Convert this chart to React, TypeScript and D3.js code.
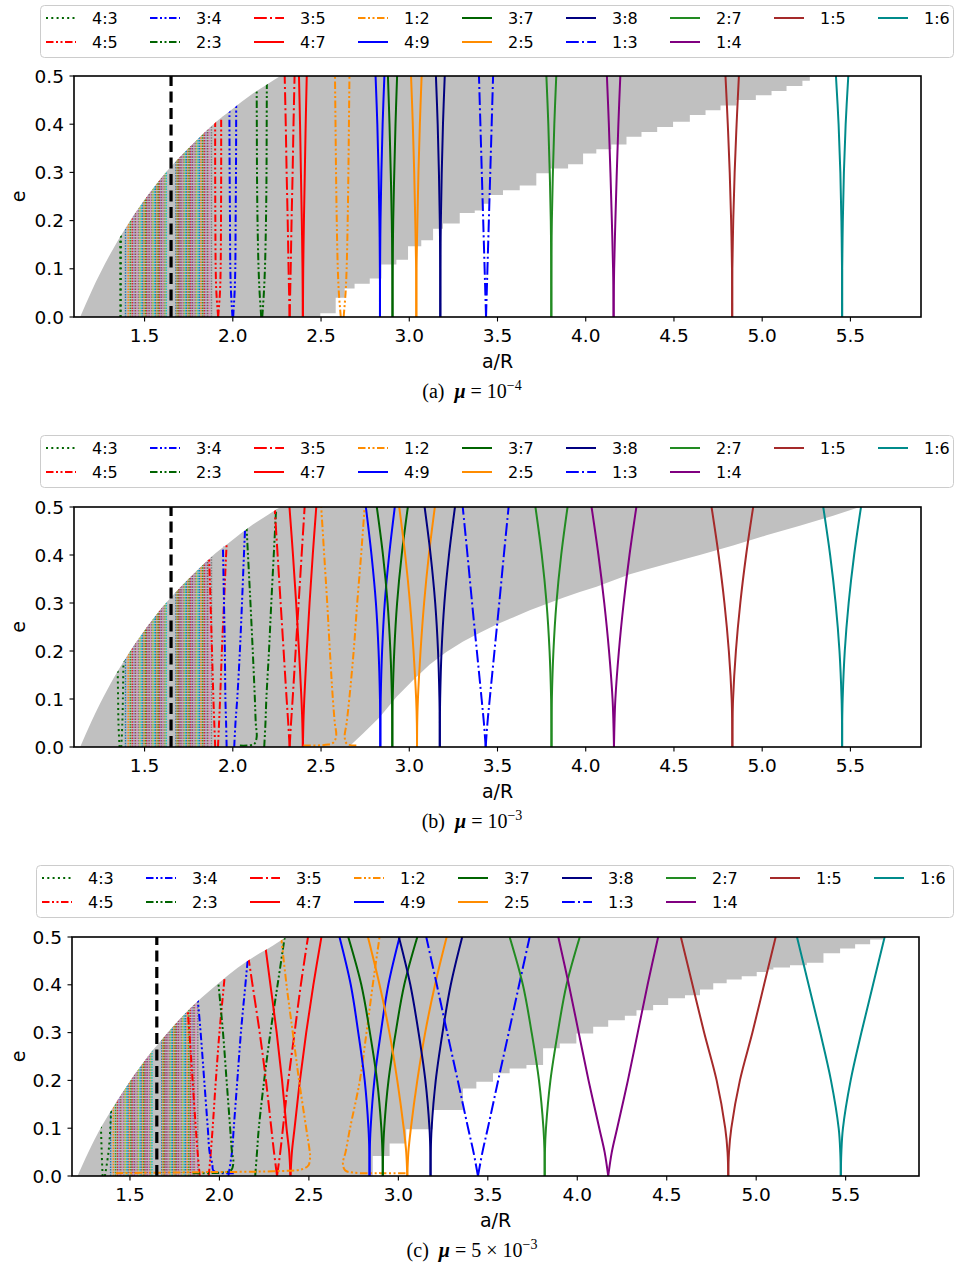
import React from "react";
import * as d3 from "d3";

// ---------- data ----------
const RES_LABELS = ["4:3","4:5","3:4","2:3","3:5","4:7","1:2","4:9","3:7","2:5","3:8","1:3","2:7","1:4","1:5","1:6"];
const RES_COLORS = ["#006400","#ff0000","#0000ff","#006400","#ff0000","#ff0000","#ff8c00","#0000ff","#006400","#ff8c00","#000080","#0000ff","#228b22","#800080","#a52a2a","#008b8b"];
const RES_STYLES = ["dot","dashdotdot","dashdotdot","dashdotdot","dashdot","solid","dashdotdot","solid","solid","solid","solid","dashdot","solid","solid","solid","solid"];
const E_LEVELS = [0, 0.05, 0.1, 0.2, 0.3, 0.4, 0.5];
const X_TICKS = [1.5, 2.0, 2.5, 3.0, 3.5, 4.0, 4.5, 5.0, 5.5];
const Y_TICKS = [0, 0.1, 0.2, 0.3, 0.4, 0.5];
const SATELLITE_A = 1.65;

// panel (a) mu = 1e-4
const CENTER_A = [1.364,1.917,2.0,2.164,2.322,2.397,2.62,2.834,2.905,3.04,3.176,3.435,3.805,4.158,4.83,5.453];
const HW_A = [
  [0,0.001,0.0015,0.002,0.003,0.004,0.005],
  [0,0.01,0.014,0.016,0.017,0.017,0.017],
  [0.002,0.01,0.014,0.016,0.018,0.019,0.019],
  [0.003,0.012,0.018,0.024,0.027,0.028,0.029],
  [0,0.003,0.006,0.011,0.017,0.022,0.028],
  [0,0.001,0.002,0.006,0.011,0.016,0.022],
  [0.008,0.019,0.025,0.031,0.035,0.038,0.041],
  [0,0,0.0005,0.003,0.008,0.015,0.025],
  [0,0,0.001,0.004,0.01,0.017,0.026],
  [0,0.0003,0.001,0.006,0.012,0.02,0.03],
  [0,0,0.0005,0.003,0.008,0.015,0.025],
  [0,0.004,0.008,0.016,0.024,0.032,0.04],
  [0,0,0.0005,0.003,0.009,0.017,0.028],
  [0,0.001,0.003,0.01,0.018,0.027,0.038],
  [0,0,0.001,0.006,0.014,0.025,0.038],
  [0,0,0.0005,0.004,0.01,0.02,0.035],
];

// panel (b) mu = 1e-3   (14 values = left 7 + right 7)
const CENTER_B = [1.363,1.908,1.987,2.156,2.322,2.397,2.61,2.836,2.904,3.044,3.173,3.433,3.806,4.16,4.831,5.453];
const HW_B = [
  [0.005,0.011,0.013,0.017,0.02,0.023,0.025, 0.005,0.011,0.014,0.018,0.022,0.025,0.027],
  [0.008,0.013,0.018,0.026,0.034,0.043,0.052, 0.008,0.014,0.02,0.03,0.042,0.054,0.067],
  [0.022,0.025,0.029,0.032,0.037,0.042,0.047, 0.021,0.028,0.038,0.053,0.065,0.076,0.088],
  [0.021,0.026,0.031,0.043,0.056,0.07,0.084, 0.022,0.029,0.034,0.049,0.062,0.076,0.09],
  [0,0.008,0.017,0.034,0.051,0.068,0.085],
  [0,0.003,0.008,0.022,0.038,0.056,0.076],
  [0.024,0.032,0.043,0.06,0.075,0.092,0.109, 0.024,0.035,0.05,0.075,0.095,0.117,0.137],
  [0,0.0005,0.002,0.01,0.025,0.05,0.082],
  [0,0.0005,0.002,0.011,0.027,0.053,0.088],
  [0,0.001,0.005,0.02,0.04,0.067,0.101],
  [0,0.0005,0.002,0.01,0.026,0.052,0.086],
  [0,0.01,0.023,0.05,0.077,0.103,0.13],
  [0,0.0005,0.002,0.011,0.028,0.055,0.091],
  [0,0.003,0.008,0.028,0.055,0.088,0.127],
  [0,0.001,0.004,0.02,0.045,0.078,0.118],
  [0,0.0005,0.003,0.015,0.037,0.068,0.107],
];

// panel (c) mu = 5e-3
const CENTER_C = [1.35,1.912,2.005,2.14,2.322,2.397,2.6,2.839,2.913,3.05,3.18,3.445,3.818,4.173,4.844,5.473];
const HW_C = [
  [0.003,0.008,0.012,0.02,0.025,0.03,0.035, 0.01,0.03,0.04,0.05,0.06,0.07,0.08],
  [0.022,0.034,0.044,0.062,0.08,0.1,0.122, 0.028,0.04,0.05,0.068,0.088,0.113,0.138],
  [0.045,0.06,0.07,0.09,0.11,0.133,0.155, 0.045,0.065,0.075,0.095,0.115,0.14,0.165],
  [0.062,0.07,0.08,0.1,0.12,0.145,0.17, 0.06,0.07,0.08,0.11,0.145,0.185,0.225],
  [0,0.017,0.032,0.062,0.097,0.137,0.177, 0,0.018,0.033,0.063,0.098,0.133,0.173],
  [0,0.007,0.022,0.047,0.077,0.112,0.147, 0,0.008,0.023,0.053,0.088,0.128,0.173],
  [0.093,0.095,0.115,0.155,0.19,0.225,0.255, 0.09,0.105,0.13,0.185,0.222,0.257,0.295],
  [0,0.001,0.006,0.027,0.063,0.105,0.168],
  [0,0.002,0.008,0.032,0.072,0.12,0.193],
  [0,0.006,0.02,0.056,0.1,0.155,0.22],
  [0,0.001,0.006,0.029,0.067,0.113,0.177],
  [0,0.025,0.055,0.113,0.172,0.23,0.289],
  [0,0.001,0.007,0.032,0.073,0.122,0.196],
  [0,0.02,0.05,0.11,0.165,0.22,0.279],
  [0,0.004,0.017,0.065,0.135,0.2,0.265],
  [0,0.003,0.012,0.055,0.115,0.18,0.245],
];

// low-eccentricity tails of first-order separatrices
const TAIL_RES_B = [6, 6, 3];
const TAIL_SIDE_B = ["L", "R", "L"];
const TAIL_A_B = [[2.586,2.572,2.54,2.4],[2.634,2.648,2.7],[2.135,2.12,2.04]];
const TAIL_E_B = [[0.024,0.01,0.005,0.003],[0.02,0.006,0.003],[0.02,0.006,0.003]];
const TAIL_RES_C = [6, 6, 3, 2];
const TAIL_SIDE_C = ["L", "R", "L", "L"];
const TAIL_A_C = [[2.507,2.497,2.46,2.3,1.9,1.42],[2.69,2.702,2.75,2.9,3.04],[2.078,2.065,2.0,1.85],[1.96,1.965,1.99,2.08]];
const TAIL_E_C = [[0.04,0.022,0.014,0.01,0.008,0.006],[0.027,0.012,0.007,0.006,0.006],[0.03,0.012,0.007,0.006],[0.025,0.012,0.007,0.006]];

// collision (pericentre) boundary
const COLLISION_AB_A = [1.135,1.2,1.3,1.4,1.5,1.6,1.7,1.8,1.9,2.0,2.1,2.2,2.27];
const COLLISION_AB_E = [0,0.054,0.127,0.189,0.243,0.291,0.332,0.369,0.403,0.432,0.46,0.484,0.5];
const COLLISION_C_A = [1.207,1.3,1.4,1.5,1.6,1.7,1.8,1.9,2.0,2.1,2.2,2.3,2.373];
const COLLISION_C_E = [0,0.075,0.14,0.198,0.25,0.295,0.337,0.373,0.405,0.435,0.46,0.482,0.5];

// lower boundary of the grey (unstable) region
const STEP_A_A = [2.496,2.583,2.634,2.69,2.776,2.842,2.927,2.993,3.068,3.135,3.191,3.286,3.371,3.42,3.456,3.531,3.626,3.72,3.796,3.9,3.985,4.06,4.145,4.231,4.316,4.405,4.495,4.59,4.679,4.764,4.854,4.964,5.053,5.138,5.228,5.27];
const STEP_A_E = [0.008,0.04,0.059,0.069,0.08,0.109,0.119,0.147,0.159,0.183,0.194,0.216,0.221,0.235,0.253,0.263,0.273,0.298,0.308,0.317,0.339,0.348,0.358,0.374,0.384,0.394,0.405,0.419,0.429,0.439,0.45,0.46,0.469,0.479,0.49,0.5];
const BOUND_B_A = [2.66,2.672,2.738,2.832,2.927,3.021,3.116,3.21,3.305,3.4,3.494,3.588,3.683,3.777,3.872,3.966,4.061,4.155,4.25,4.344,4.457,4.646,4.835,5.024,5.213,5.402,5.553];
const BOUND_B_E = [0,0.005,0.028,0.062,0.104,0.139,0.172,0.198,0.22,0.238,0.255,0.27,0.285,0.298,0.311,0.323,0.334,0.347,0.36,0.37,0.381,0.4,0.42,0.441,0.461,0.482,0.5];
const STEP_C_A = [2.857,2.951,3.044,3.193,3.361,3.436,3.529,3.622,3.716,3.809,3.902,3.995,4.089,4.173,4.266,4.331,4.424,4.508,4.602,4.686,4.76,4.835,4.919,5.003,5.059,5.096,5.189,5.283,5.376,5.469,5.553,5.637,5.711];
const STEP_C_E = [0.042,0.068,0.098,0.138,0.183,0.197,0.215,0.225,0.232,0.267,0.277,0.298,0.312,0.326,0.335,0.347,0.358,0.372,0.378,0.39,0.403,0.411,0.418,0.427,0.432,0.436,0.441,0.446,0.466,0.476,0.485,0.495,0.5];

// high-order resonances (thin dotted lines)
const THIN_A = [1.392,1.407,1.419,1.43,1.44,1.449,1.458,1.466,1.474,1.482,1.49,1.497,1.505,1.512,1.52,1.527,1.534,1.541,1.548,1.556,1.563,1.57,1.577,1.584,1.591,1.598,1.604,1.611,1.617,1.623,1.678,1.684,1.69,1.696,1.702,1.708,1.714,1.72,1.726,1.732,1.738,1.745,1.752,1.759,1.766,1.773,1.78,1.787,1.795,1.803,1.811,1.82,1.829,1.838,1.848,1.858,1.868,1.879];

const CAPTION_TAGS = ["(a)", "(b)", "(c)"];
const CAPTION_PRE = ["10", "10", "5 × 10"];
const CAPTION_EXP = ["−4", "−3", "−3"];

// ---------- layout ----------
const LAYOUT = [
  { top: 76, bottom: 317, left: 74, right: 921, x0: 1.1, x1: 5.9, lx: 40, ly: 5, lw: 913 },
  { top: 507, bottom: 747, left: 74, right: 921, x0: 1.1, x1: 5.9, lx: 40, ly: 435, lw: 913 },
  { top: 937, bottom: 1176, left: 72, right: 919, x0: 1.176, x1: 5.91, lx: 36, ly: 865, lw: 917 },
];

const CENTERS = [CENTER_A, CENTER_B, CENTER_C];
const HWS = [HW_A, HW_B, HW_C];
const TAIL_RES = [[], TAIL_RES_B, TAIL_RES_C];
const TAIL_SIDE = [[], TAIL_SIDE_B, TAIL_SIDE_C];
const TAIL_AS = [[], TAIL_A_B, TAIL_A_C];
const TAIL_ES = [[], TAIL_E_B, TAIL_E_C];

function dashFor(style: string): string | undefined {
  if (style === "dot") return "2,3.3";
  if (style === "dashdot") return "12.8,3.2,2,3.2";
  if (style === "dashdotdot") return "7.5,2.5,2,2.5,2,2.5";
  return undefined;
}

const TICK_FONT = 18.5;
const FONT = "DejaVu Sans";

function Panel({ p }: { p: number }) {
  const L = LAYOUT[p];
  const x = d3.scaleLinear().domain([L.x0, L.x1]).range([L.left, L.right]);
  const y = d3.scaleLinear().domain([0, 0.5]).range([L.bottom, L.top]);
  const colA = p === 2 ? COLLISION_C_A : COLLISION_AB_A;
  const colE = p === 2 ? COLLISION_C_E : COLLISION_AB_E;
  const colPts: [number, number][] = colA.map((a, k) => [a, colE[k]]);
  const colPath = d3.line<[number, number]>().x(d => x(d[0])).y(d => y(d[1])).curve(d3.curveMonotoneX)(colPts) as string;

  let lower: [number, number][] = [];
  if (p === 1) {
    lower = BOUND_B_A.map((a, k) => [a, BOUND_B_E[k]]);
  } else {
    const A = p === 0 ? STEP_A_A : STEP_C_A;
    const E = p === 0 ? STEP_A_E : STEP_C_E;
    lower.push([A[0], 0]);
    for (let i = 0; i < A.length - 1; i++) {
      lower.push([A[i], E[i]], [A[i + 1], E[i]]);
    }
    lower.push([A[A.length - 1], E[E.length - 1]]);
  }
  const grayPath = colPath + lower.slice().reverse().map(([a, e]) => `L${x(a)},${y(e)}`).join("") + "Z";
  const clipPath = colPath + `L${L.right},${L.top}L${L.right},${L.bottom}Z`;
  const clipId = `clipres${p}`;
  const rectId = `cliprect${p}`;

  const line = d3.line<[number, number]>().x(d => x(d[0])).y(d => y(d[1])).curve(d3.curveCatmullRom.alpha(0.5));

  const branches: JSX.Element[] = [];
  RES_LABELS.forEach((_, r) => {
    const c = CENTERS[p][r];
    const hw = HWS[p][r];
    const hwL = hw.slice(0, 7);
    const hwR = hw.length > 7 ? hw.slice(7, 14) : hwL;
    (["L", "R"] as const).forEach(side => {
      const sgn = side === "L" ? -1 : 1;
      const h = side === "L" ? hwL : hwR;
      let pts: [number, number][] = E_LEVELS.map((e, k) => [c + sgn * h[k], e]);
      const ti = TAIL_RES[p].findIndex((rr, k) => rr === r && TAIL_SIDE[p][k] === side);
      if (ti >= 0) {
        const ta = TAIL_AS[p][ti];
        const te = TAIL_ES[p][ti];
        const tail: [number, number][] = ta.map((a, k) => [a, te[k]]);
        pts = [...tail.slice().reverse(), ...pts.slice(1)];
      }
      branches.push(
        <path key={`${r}${side}`} d={line(pts) as string} fill="none" stroke={RES_COLORS[r]} strokeWidth={2}
          strokeDasharray={dashFor(RES_STYLES[r])} />
      );
    });
  });

  const cx = (L.left + L.right) / 2;
  return (
    <g>
      <defs>
        <clipPath id={clipId}><path d={clipPath} /></clipPath>
        <clipPath id={rectId}><rect x={L.left} y={L.top} width={L.right - L.left} height={L.bottom - L.top} /></clipPath>
      </defs>
      <path d={grayPath} fill="#c0c0c0" />
      <g clipPath={`url(#${clipId})`}>
        {THIN_A.map((a, i) => (
          <line key={i} x1={x(a)} x2={x(a)} y1={y(0)} y2={y(0.5)} stroke={d3.schemeCategory10[i % 10]}
            strokeWidth={1.5} strokeDasharray="1.5,1.2" />
        ))}
        {branches}
      </g>
      <g clipPath={`url(#${rectId})`}>
        <line x1={x(SATELLITE_A)} x2={x(SATELLITE_A)} y1={y(0)} y2={y(0.5)} stroke="#000" strokeWidth={3.2} strokeDasharray="11,5.5" />
      </g>
      <rect x={L.left} y={L.top} width={L.right - L.left} height={L.bottom - L.top} fill="none" stroke="#000" strokeWidth={1.6} />
      {X_TICKS.map(t => (
        <g key={t}>
          <line x1={x(t)} x2={x(t)} y1={L.bottom} y2={L.bottom + 4.5} stroke="#000" strokeWidth={1.1} />
          <text x={x(t)} y={L.bottom + 25} textAnchor="middle" fontSize={TICK_FONT} fontFamily={FONT} fill="#000">{t.toFixed(1)}</text>
        </g>
      ))}
      {Y_TICKS.map(t => (
        <g key={t}>
          <line x1={L.left - 4.5} x2={L.left} y1={y(t)} y2={y(t)} stroke="#000" strokeWidth={1.1} />
          <text x={L.left - 10} y={y(t)} dy="0.36em" textAnchor="end" fontSize={TICK_FONT} fontFamily={FONT} fill="#000">{t.toFixed(1)}</text>
        </g>
      ))}
      <text x={cx} y={L.bottom + 51} textAnchor="middle" fontSize={19} fontFamily={FONT} fill="#000">a/R</text>
      <text transform={`translate(18,${(L.top + L.bottom) / 2}) rotate(-90)`} textAnchor="middle" dy="0.36em" fontSize={19} fontFamily={FONT} fill="#000">e</text>
      {/* legend */}
      <g transform={`translate(${L.lx},${L.ly})`}>
        <rect x={0.5} y={0.5} width={L.lw} height={52} rx={4} fill="#fff" fillOpacity={0.8} stroke="#cccccc" strokeWidth={1} />
        {RES_LABELS.map((lab, i) => {
          const col = i < 14 ? Math.floor(i / 2) : i - 7;
          const row = i < 14 ? i % 2 : 0;
          const hx = 6 + col * 104;
          const hy = 13 + row * 24;
          return (
            <g key={lab}>
              <line x1={hx} x2={hx + 30} y1={hy} y2={hy} stroke={RES_COLORS[i]} strokeWidth={2} strokeDasharray={dashFor(RES_STYLES[i])} />
              <text x={hx + 46} y={hy} dy="0.36em" fontSize={16} fontFamily={FONT} fill="#000">{lab}</text>
            </g>
          );
        })}
      </g>
      {/* caption */}
      <text x={472} y={L.bottom + 81} textAnchor="middle" fontSize={20} fontFamily="Liberation Serif" fill="#000">
        {CAPTION_TAGS[p]}{"\u00a0\u00a0"}<tspan fontStyle="italic" fontWeight="bold">μ</tspan>{` = ${CAPTION_PRE[p]}`}
        <tspan dy={-8} fontSize={14}>{CAPTION_EXP[p]}</tspan>
      </text>
    </g>
  );
}

export default function App() {
  return (
    <svg width={955} height={1266} style={{ position: "absolute", left: 0, top: 0, background: "#fff" }}>
      <Panel p={0} />
      <Panel p={1} />
      <Panel p={2} />
    </svg>
  );
}
